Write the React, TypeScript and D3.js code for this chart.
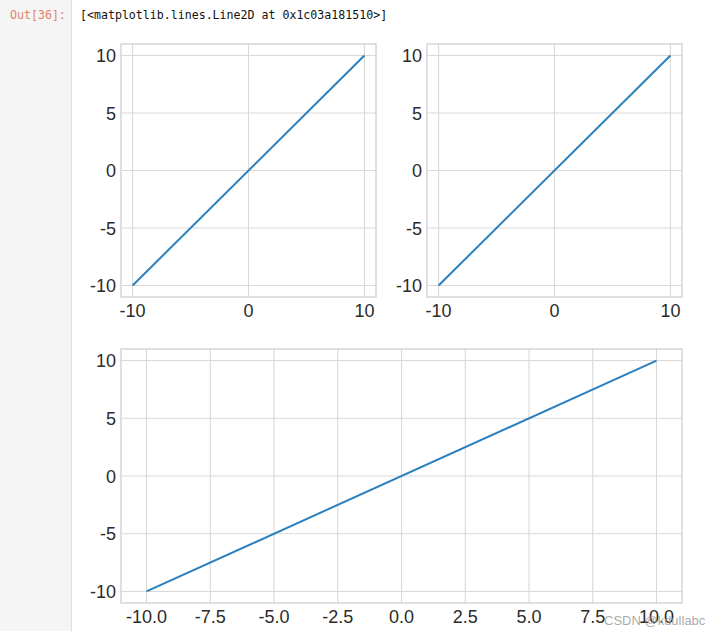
import React from "react";
import * as d3 from "d3";

const lineX = [-10, 10];
const lineY = [-10, 10];
const smallXTicks = [-10, 0, 10];
const yTicks = [-10, -5, 0, 5, 10];
const wideXTicks = [-10, -7.5, -5, -2.5, 0, 2.5, 5, 7.5, 10];
const domain: [number, number] = [-11, 11];

const outPrompt = "Out[36]:";
const outText = "[<matplotlib.lines.Line2D at 0x1c03a181510>]";
const watermark = "CSDN @kdullabc";

const W = 712;
const H = 631;
const FONT = "'Liberation Sans', Arial, sans-serif";
const TEXT = "#2b2b2b";
const GRID = "#d9d9d9";
const SPINE = "#cfcfcf";
const LINE = "#2a7fbf";

type PanelProps = {
  x0: number; x1: number; y0: number; y1: number;
  xTicks: number[]; fmt: (v: number) => string;
};

function Panel({ x0, x1, y0, y1, xTicks, fmt }: PanelProps) {
  const xs = d3.scaleLinear().domain(domain).range([x0, x1]);
  const ys = d3.scaleLinear().domain(domain).range([y1, y0]);
  const pts: [number, number][] = lineX.map((v, i) => [v, lineY[i]]);
  const path = d3.line<[number, number]>().x(d => xs(d[0])).y(d => ys(d[1]))(pts) || "";
  return (
    <g>
      <rect x={x0} y={y0} width={x1 - x0} height={y1 - y0} fill="#fff" />
      {xTicks.map(t => (
        <line key={"gx" + t} x1={xs(t)} x2={xs(t)} y1={y0} y2={y1} stroke={GRID} strokeWidth={1.1} />
      ))}
      {yTicks.map(t => (
        <line key={"gy" + t} x1={x0} x2={x1} y1={ys(t)} y2={ys(t)} stroke={GRID} strokeWidth={1.1} />
      ))}
      <path d={path} fill="none" stroke={LINE} strokeWidth={2} strokeLinecap="butt" />
      <rect x={x0} y={y0} width={x1 - x0} height={y1 - y0} fill="none" stroke={SPINE} strokeWidth={1.3} />
      {xTicks.map(t => (
        <text key={"tx" + t} x={xs(t)} y={y1 + 20} textAnchor="middle" fontFamily={FONT} fontSize={18} fill={TEXT}>
          {fmt(t)}
        </text>
      ))}
      {yTicks.map(t => (
        <text key={"ty" + t} x={x0 - 5} y={ys(t) + 6.5} textAnchor="end" fontFamily={FONT} fontSize={18} fill={TEXT}>
          {String(t)}
        </text>
      ))}
    </g>
  );
}

export default function App() {
  return (
    <div style={{ position: "fixed", left: 0, top: 0, width: W, height: H, background: "#fff" }}>
      <svg width={W} height={H} style={{ display: "block" }}>
        <rect x={0} y={0} width={W} height={H} fill="#fff" />
        <rect x={0} y={0} width={71.5} height={H} fill="#f5f5f5" />
        <line x1={71.5} x2={71.5} y1={0} y2={H} stroke="#e0e0e0" strokeWidth={1} />
        <text x={10} y={19} fontFamily="'DejaVu Sans Mono', monospace" fontSize={11.6} fill="#e0836a">
          {outPrompt}
        </text>
        <text x={80} y={19} fontFamily="'DejaVu Sans Mono', monospace" fontSize={11.6} fill="#111">
          {outText}
        </text>
        <Panel x0={121} x1={376} y0={44} y1={297} xTicks={smallXTicks} fmt={v => String(v)} />
        <Panel x0={427} x1={682} y0={44} y1={297} xTicks={smallXTicks} fmt={v => String(v)} />
        <Panel x0={121} x1={682} y0={349} y1={603} xTicks={wideXTicks} fmt={v => v.toFixed(1)} />
        <text x={604} y={625} fontFamily={FONT} fontSize={13} fill="#9a9a9a" fillOpacity={0.85}>
          {watermark}
        </text>
      </svg>
    </div>
  );
}
